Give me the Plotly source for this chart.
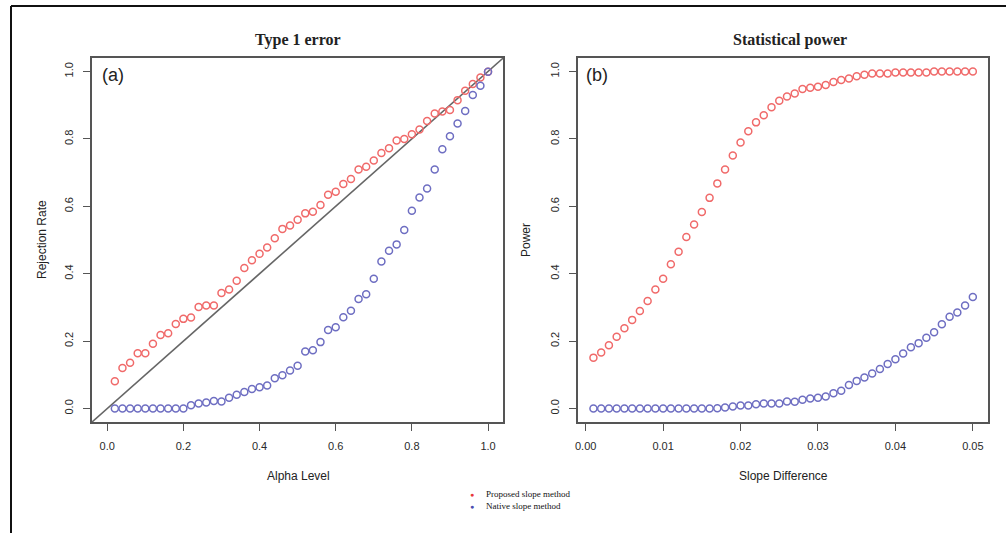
import plotly.graph_objects as go

# ---------------- data ----------------
alpha_levels = [0.02, 0.04, 0.06, 0.08, 0.10, 0.12, 0.14, 0.16, 0.18, 0.20,
                0.22, 0.24, 0.26, 0.28, 0.30, 0.32, 0.34, 0.36, 0.38, 0.40,
                0.42, 0.44, 0.46, 0.48, 0.50, 0.52, 0.54, 0.56, 0.58, 0.60,
                0.62, 0.64, 0.66, 0.68, 0.70, 0.72, 0.74, 0.76, 0.78, 0.80,
                0.82, 0.84, 0.86, 0.88, 0.90, 0.92, 0.94, 0.96, 0.98, 1.00]

proposed_type1 = [0.081, 0.120, 0.136, 0.164, 0.164, 0.192, 0.218, 0.223, 0.251, 0.266,
                  0.270, 0.301, 0.306, 0.306, 0.343, 0.353, 0.379, 0.417, 0.440, 0.459,
                  0.478, 0.505, 0.533, 0.543, 0.560, 0.579, 0.584, 0.604, 0.634, 0.643,
                  0.666, 0.681, 0.709, 0.717, 0.736, 0.758, 0.772, 0.795, 0.800, 0.814,
                  0.828, 0.853, 0.875, 0.881, 0.886, 0.915, 0.943, 0.963, 0.982, 0.999]

native_type1 = [0.0, 0.0, 0.0, 0.0, 0.0, 0.0, 0.0, 0.0, 0.0, 0.0,
                0.010, 0.015, 0.018, 0.022, 0.021, 0.032, 0.041, 0.049, 0.058, 0.063,
                0.068, 0.090, 0.099, 0.113, 0.127, 0.169, 0.173, 0.197, 0.233, 0.241,
                0.271, 0.290, 0.325, 0.339, 0.385, 0.436, 0.468, 0.487, 0.530, 0.587,
                0.626, 0.653, 0.709, 0.769, 0.808, 0.846, 0.883, 0.930, 0.958, 0.999]

slope_diffs = [0.001, 0.002, 0.003, 0.004, 0.005, 0.006, 0.007, 0.008, 0.009, 0.010,
               0.011, 0.012, 0.013, 0.014, 0.015, 0.016, 0.017, 0.018, 0.019, 0.020,
               0.021, 0.022, 0.023, 0.024, 0.025, 0.026, 0.027, 0.028, 0.029, 0.030,
               0.031, 0.032, 0.033, 0.034, 0.035, 0.036, 0.037, 0.038, 0.039, 0.040,
               0.041, 0.042, 0.043, 0.044, 0.045, 0.046, 0.047, 0.048, 0.049, 0.050]

proposed_power = [0.151, 0.166, 0.188, 0.213, 0.238, 0.263, 0.289, 0.319, 0.353, 0.385,
                  0.428, 0.465, 0.509, 0.546, 0.583, 0.625, 0.668, 0.709, 0.751, 0.789,
                  0.823, 0.849, 0.870, 0.894, 0.913, 0.926, 0.935, 0.948, 0.952, 0.955,
                  0.960, 0.969, 0.975, 0.979, 0.986, 0.990, 0.994, 0.994, 0.994, 0.997,
                  0.997, 0.997, 0.997, 0.997, 1.0, 1.0, 1.0, 1.0, 1.0, 1.0]

native_power = [0.0, 0.0, 0.0, 0.0, 0.0, 0.0, 0.0, 0.0, 0.0, 0.0,
                0.0, 0.0, 0.0, 0.0, 0.0, 0.0, 0.001, 0.003, 0.006, 0.009,
                0.009, 0.013, 0.015, 0.015, 0.015, 0.021, 0.020, 0.026, 0.030, 0.032,
                0.036, 0.045, 0.053, 0.070, 0.082, 0.092, 0.104, 0.117, 0.132, 0.146,
                0.163, 0.182, 0.194, 0.210, 0.226, 0.250, 0.272, 0.285, 0.306, 0.331]

y_ticks = [0.0, 0.2, 0.4, 0.6, 0.8, 1.0]
x_ticks_a = [0.0, 0.2, 0.4, 0.6, 0.8, 1.0]
x_ticks_b = [0.00, 0.01, 0.02, 0.03, 0.04, 0.05]
series_names = ["Proposed slope method", "Native slope method"]

# ---------------- style ----------------
RED = "#F06A6A"
BLUE = "#6E6EC2"
AXC = "#555555"
SANS = "Liberation Sans, Arial, sans-serif"
SERIF = "Liberation Serif, Times New Roman, serif"

xr_a = [-0.04, 1.04]
yr = [-0.04, 1.04]
xr_b = [-0.00096, 0.05196]

fig = go.Figure()

mk = lambda c: dict(symbol="circle-open", size=7, color=c, line=dict(width=1.5, color=c))

fig.add_trace(go.Scatter(x=alpha_levels, y=proposed_type1, mode="markers",
                         marker=mk(RED), showlegend=False, xaxis="x", yaxis="y",
                         name=series_names[0]))
fig.add_trace(go.Scatter(x=alpha_levels, y=native_type1, mode="markers",
                         marker=mk(BLUE), showlegend=False, xaxis="x", yaxis="y",
                         name=series_names[1]))
fig.add_trace(go.Scatter(x=slope_diffs, y=proposed_power, mode="markers",
                         marker=mk(RED), showlegend=False, xaxis="x2", yaxis="y2",
                         name=series_names[0]))
fig.add_trace(go.Scatter(x=slope_diffs, y=native_power, mode="markers",
                         marker=mk(BLUE), showlegend=False, xaxis="x2", yaxis="y2",
                         name=series_names[1]))

# identity reference line (abline 0,1) across the full axis range
fig.add_shape(type="line", xref="x", yref="y", x0=xr_a[0], y0=yr[0], x1=xr_a[1], y1=yr[1],
              line=dict(color="#666666", width=1.6), layer="below")

axis_common = dict(showline=True, mirror=True, linecolor=AXC, linewidth=1.6,
                   ticks="outside", ticklen=7, tickwidth=1.2, tickcolor=AXC,
                   showgrid=False, zeroline=False,
                   tickfont=dict(family=SANS, size=11, color="#2a2a2a"))

fig.update_layout(
    width=1006, height=533,
    margin=dict(l=92, r=18, t=58, b=111),
    paper_bgcolor="white", plot_bgcolor="white",
    xaxis=dict(domain=[0, 0.459], range=xr_a, tickvals=x_ticks_a, tickformat=".1f",
               ticklabelstandoff=6, anchor="y", **axis_common),
    yaxis=dict(domain=[0, 1], range=yr, tickvals=y_ticks, tickformat=".1f",
               tickangle=-90, ticklabelstandoff=6, anchor="x", **axis_common),
    xaxis2=dict(domain=[0.5427, 1], range=xr_b, tickvals=x_ticks_b, tickformat=".2f",
                ticklabelstandoff=6, anchor="y2", **axis_common),
    yaxis2=dict(domain=[0, 1], range=yr, tickvals=y_ticks, tickformat=".1f",
                tickangle=-90, ticklabelstandoff=6, anchor="x2", **axis_common),
)

# paper coordinate helpers (plot area spans x 92..988 px, y 58..422 px)
def px(xp):
    return (xp - 92) / 896.0

def py(yp):
    return (422 - yp) / 364.0

def note(text, x, y, size, family=SANS, xanchor="center", angle=0, color="#222222"):
    return dict(text=text, x=px(x), y=py(y), xref="paper", yref="paper",
                xanchor=xanchor, yanchor="middle", textangle=angle, showarrow=False,
                font=dict(family=family, size=size, color=color))

ann = [
    note("<b>Type 1 error</b>", 298, 40, 16, SERIF),
    note("<b>Statistical power</b>", 790, 40, 16, SERIF),
    note("(a)", 100, 75, 18, xanchor="left"),
    note("(b)", 584, 75, 18, xanchor="left"),
    note("Alpha Level", 298, 476, 12),
    note("Slope Difference", 783, 476, 12),
    note("Rejection Rate", 42, 240, 12, angle=-90),
    note("Power", 526, 240, 12, angle=-90),
]
for name, col, yy in [(series_names[0], "#E8393B", 494), (series_names[1], "#4C4CB0", 506)]:
    ann.append(note("●", 472, yy, 7, color=col))
    ann.append(note(name, 484, yy, 9, SERIF, xanchor="left", color="#111111"))
fig.update_layout(annotations=ann)

# outer frame (top and left edges)
fig.add_shape(type="line", xref="paper", yref="paper", x0=px(11), y0=py(6), x1=px(1006), y1=py(6),
              line=dict(color="#111111", width=2))
fig.add_shape(type="line", xref="paper", yref="paper", x0=px(11), y0=py(6), x1=px(11), y1=py(540),
              line=dict(color="#111111", width=2))

fig.write_html("out.html", config={"displayModeBar": False},
               post_script="document.body.style.margin='0';")
